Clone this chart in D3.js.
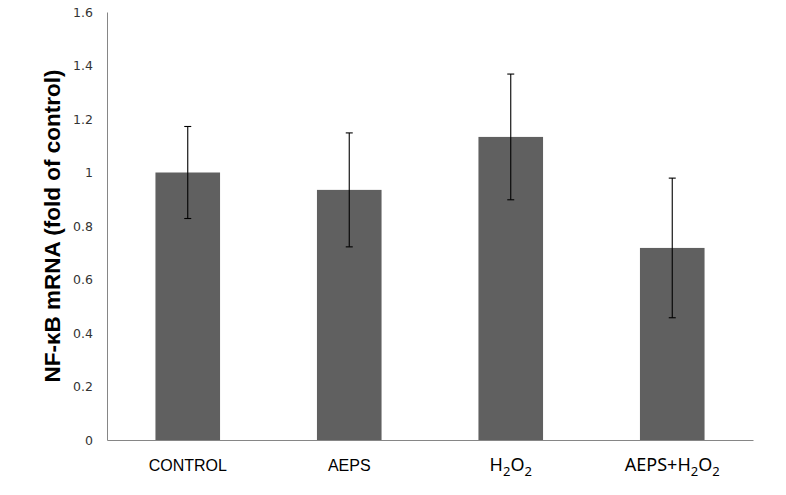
<!DOCTYPE html>
<html>
<head>
<meta charset="utf-8">
<script src="https://cdn.jsdelivr.net/npm/d3@7"></script>
<style>
  body { margin: 0; background: #fff; }
</style>
</head>
<body>
<div id="chart"></div>
<script>
var categories = ['CONTROL', 'AEPS', 'H2O2', 'AEPS+H2O2'];
var values = [1.0, 0.935, 1.133, 0.718];
var errors = [0.172, 0.213, 0.235, 0.261];
var yTicks = [0, 0.2, 0.4, 0.6, 0.8, 1, 1.2, 1.4, 1.6];

var margin = {top: 12, right: 33, bottom: 55, left: 107};
var width = 786 - margin.left - margin.right,
    height = 495 - margin.top - margin.bottom;

var svg = d3.select('#chart').append('svg')
    .attr('width', 786)
    .attr('height', 495)
  .append('g')
    .attr('transform', 'translate(' + margin.left + ',' + margin.top + ')');

var x = d3.scaleBand()
      .domain(categories)
      .range([0, width])
      .paddingInner(0.6)
      .paddingOuter(0.3),
    y = d3.scaleLinear()
      .domain([0, 1.6])
      .range([height, 0]);

// bars
svg.selectAll('.bar')
  .data(categories)
    .enter().append('rect')
  .attr('class', 'bar')
  .attr('x', function(d) { return x(d); })
  .attr('y', function(d, i) { return y(values[i]); })
  .attr('width', x.bandwidth())
  .attr('height', function(d, i) { return height - y(values[i]); })
  .style('fill', '#606060');

// error bars
var err = svg.selectAll('.err')
  .data(categories)
    .enter().append('g')
  .attr('class', 'err')
  .attr('transform', function(d) { return 'translate(' + (x(d) + x.bandwidth() / 2) + ',0)'; })
  .style('stroke', '#000')
  .style('stroke-width', 1.1);

err.append('line')
  .attr('y1', function(d, i) { return y(values[i] + errors[i]); })
  .attr('y2', function(d, i) { return y(values[i] - errors[i]); });
err.append('line')
  .attr('x1', -3.5).attr('x2', 3.5)
  .attr('y1', function(d, i) { return y(values[i] + errors[i]); })
  .attr('y2', function(d, i) { return y(values[i] + errors[i]); });
err.append('line')
  .attr('x1', -3.5).attr('x2', 3.5)
  .attr('y1', function(d, i) { return y(values[i] - errors[i]); })
  .attr('y2', function(d, i) { return y(values[i] - errors[i]); });

// axes
var yAxis = svg.append('g')
  .call(d3.axisLeft(y).tickValues(yTicks).tickSize(0).tickPadding(14).tickFormat(d3.format('')));
yAxis.select('.domain').attr('stroke', '#868686');
yAxis.selectAll('text')
  .attr('dy', '0.35em')
  .style('font-family', '"DejaVu Sans", sans-serif')
  .style('font-size', '12.5px')
  .style('fill', '#333');

var xAxis = svg.append('g')
  .attr('transform', 'translate(0,' + height + ')')
  .call(d3.axisBottom(x).tickSize(0).tickFormat(''));
xAxis.select('.domain').attr('stroke', '#868686');

// category labels, with subscripts for H2O2
var labels = xAxis.selectAll('.tick').append('text')
  .attr('y', 31)
  .attr('text-anchor', 'middle')
  .style('fill', '#000')
  .style('font-family', function(d) { return d.indexOf('H2O2') >= 0 ? '"Noto Sans", sans-serif' : '"Liberation Sans", Arial, sans-serif'; })
  .style('font-size', function(d) { return d.indexOf('H2O2') >= 0 ? '18px' : '16px'; });

labels.each(function(d) {
  var t = d3.select(this);
  var shifted = false;
  d.split(/(2)/).forEach(function(p) {
    if (p === '') return;
    if (p === '2') {
      t.append('tspan').attr('dy', 5).style('font-size', '13px').text('2');
      shifted = true;
    } else {
      t.append('tspan').attr('dy', shifted ? -5 : 0).text(p);
      shifted = false;
    }
  });
});

// y title
svg.append('text')
  .attr('transform', 'translate(' + (-47) + ',' + (height / 2) + ') rotate(-90)')
  .attr('text-anchor', 'middle')
  .style('font-family', '"Liberation Sans", Arial, sans-serif')
  .style('font-weight', 'bold')
  .style('font-size', '22.5px')
  .text('NF-\u03BAB mRNA (fold of control)');
</script>
</body>
</html>
